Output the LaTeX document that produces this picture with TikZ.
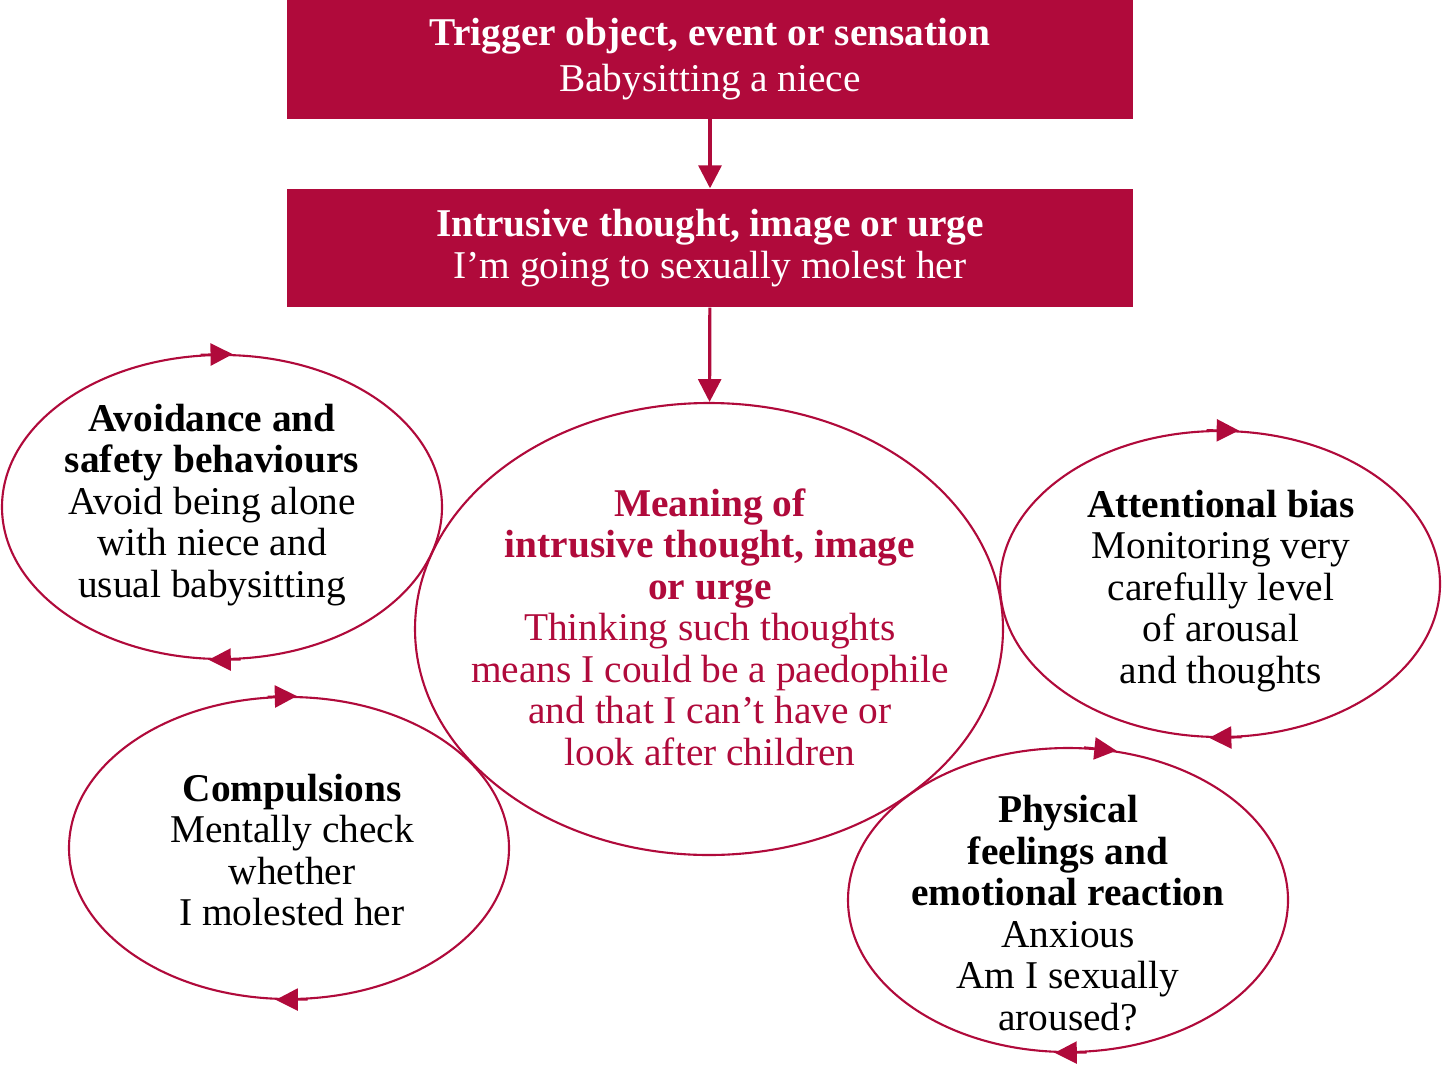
\documentclass[tikz,border=0pt]{standalone}
\usepackage{fontspec}
\setmainfont{Liberation Serif}
\usetikzlibrary{shapes.geometric,arrows.meta}
\definecolor{boxred}{RGB}{176,10,59}
\tikzset{
  BoxStyle/.style={fill=boxred, text=white, minimum width=84.6mm, minimum height=11.9mm, inner sep=0pt, align=center, font=\fontsize{11.2}{11.8}\selectfont},
  EllipseStyle/.style={draw=boxred, line width=0.6pt, ellipse, inner sep=0pt, minimum width=44mm, minimum height=30.4mm},
  TextStyle/.style={align=center, font=\fontsize{11.2}{11.8}\selectfont},
  EdgeStyle/.style={draw=boxred, line width=0.9pt, -{Triangle[length=6.5pt,width=6.5pt]}},
  TipStyle/.style={draw=boxred, fill=boxred, line width=0.6pt, -{Triangle[length=6.3pt,width=6.3pt]}}
}
\begin{document}
\begin{tikzpicture}[x=0.1mm,y=-0.1mm]
\useasboundingbox (0,0) rectangle (1442,1067);
\node[BoxStyle] (trigger) at (710,59) {\textbf{Trigger object, event or sensation}\\[0.5mm]Babysitting a niece};
\node[BoxStyle, minimum height=11.8mm] (intrusive) at (710,248) {\textbf{Intrusive thought, image or urge}\\I'm going to sexually molest her};
\node[EllipseStyle] (avoid) at (222,507) {};
\node[EllipseStyle, minimum height=30.2mm] (comp) at (289,848) {};
\node[EllipseStyle, minimum width=58.8mm, minimum height=45.2mm] (meaning) at (709,629) {};
\node[EllipseStyle, minimum height=30.6mm] (attn) at (1220,584) {};
\node[EllipseStyle] (phys) at (1068,900) {};
\node[TextStyle] (avoidtxt) at (212,505) {\textbf{Avoidance and}\\\textbf{safety behaviours}\\Avoid being alone\\with niece and\\usual babysitting};
\node[TextStyle] (comptxt) at (292,850) {\textbf{Compulsions}\\Mentally check\\whether\\I molested her};
\node[TextStyle, text=boxred] (meaningtxt) at (710,627) {\textbf{Meaning of}\\\textbf{intrusive thought, image}\\\textbf{or urge}\\Thinking such thoughts\\means I could be a paedophile\\and that I can't have or\\look after children};
\node[TextStyle] (attntxt) at (1221,591) {\textbf{Attentional bias}\\Monitoring very\\carefully level\\of arousal\\and thoughts};
\node[TextStyle] (phystxt) at (1068,913) {\textbf{Physical}\\\textbf{feelings and}\\\textbf{emotional reaction}\\Anxious\\Am I sexually\\aroused?};
\draw[EdgeStyle] (trigger) -- (intrusive);
\draw[EdgeStyle] (intrusive) -- (meaning);
\draw[TipStyle] (avoid.98) -- (avoid.86);
\draw[TipStyle] (avoid.277) -- (avoid.265);
\draw[TipStyle] (comp.98) -- (comp.87);
\draw[TipStyle] (comp.277) -- (comp.265);
\draw[TipStyle] (attn.95) -- (attn.83);
\draw[TipStyle] (attn.278) -- (attn.266);
\draw[TipStyle] (phys.84) -- (phys.72);
\draw[TipStyle] (phys.277) -- (phys.265);
\end{tikzpicture}
\end{document}
